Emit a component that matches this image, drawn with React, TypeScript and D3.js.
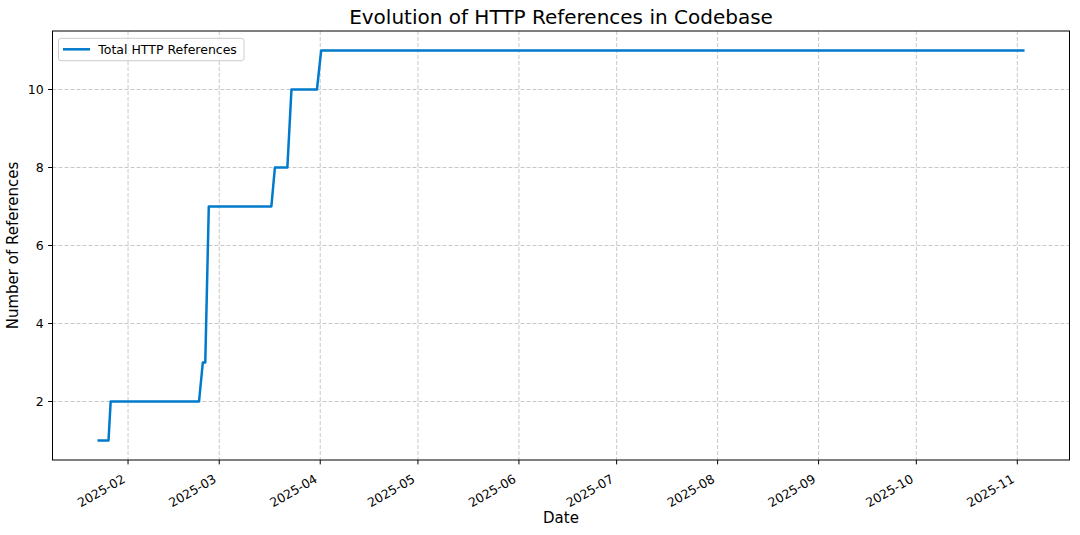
import React from "react";
import * as d3 from "d3";

const dates: string[] = [
  "2025-01-23T00:00",
  "2025-01-26T00:00",
  "2025-01-26T16:00",
  "2025-02-22T19:00",
  "2025-02-23T23:00",
  "2025-02-24T17:00",
  "2025-02-25T19:00",
  "2025-03-17T00:00",
  "2025-03-18T02:00",
  "2025-03-21T22:00",
  "2025-03-23T04:00",
  "2025-03-31T00:00",
  "2025-04-01T07:00",
  "2025-11-02T20:00",
];
const values: number[] = [1, 1, 2, 2, 3, 3, 7, 7, 8, 8, 10, 10, 11, 11];
const yTicks: number[] = [2, 4, 6, 8, 10];
const xTickMonths: string[] = [
  "2025-02-01", "2025-03-01", "2025-04-01", "2025-05-01", "2025-06-01",
  "2025-07-01", "2025-08-01", "2025-09-01", "2025-10-01", "2025-11-01",
];
const seriesName = "Total HTTP References";

const W = 1080, H = 535;
const L = 52.5, R = 1069.5, T = 31, B = 460;
const FONT = "DejaVu Sans, sans-serif";
const LINE = "#007acc";

export default function App() {
  const parsed = dates.map((d) => new Date(d));
  const [mn, mx] = d3.extent(parsed) as [Date, Date];
  const span = mx.getTime() - mn.getTime();
  const x = d3.scaleTime()
    .domain([new Date(mn.getTime() - span * 0.05), new Date(mx.getTime() + span * 0.05)])
    .range([L, R]);
  const vmin = d3.min(values)!, vmax = d3.max(values)!;
  const vs = vmax - vmin;
  const y = d3.scaleLinear().domain([vmin - vs * 0.05, vmax + vs * 0.05]).range([B, T]);
  const line = d3.line<number>()
    .x((_, i) => x(parsed[i]))
    .y((v) => y(v));
  const fmt = d3.timeFormat("%Y-%m");
  const xt = xTickMonths.map((d) => new Date(d + "T00:00"));

  return (
    <div style={{ position: "absolute", left: 0, top: 0 }}>
      <svg width={W} height={H} style={{ display: "block", background: "#fff" }} fontFamily={FONT}>
        <rect x={0} y={0} width={W} height={H} fill="#fff" />
        {/* grid */}
        {xt.map((d, i) => (
          <line key={"gx" + i} x1={x(d)} x2={x(d)} y1={T} y2={B}
            stroke="#b0b0b0" strokeOpacity={0.7} strokeWidth={1} strokeDasharray="4,2" />
        ))}
        {yTicks.map((v, i) => (
          <line key={"gy" + i} x1={L} x2={R} y1={y(v)} y2={y(v)}
            stroke="#b0b0b0" strokeOpacity={0.7} strokeWidth={1} strokeDasharray="4,2" />
        ))}
        {/* data line */}
        <path d={line(values) || ""} fill="none" stroke={LINE} strokeWidth={2.5}
          strokeLinejoin="round" strokeLinecap="square" />
        {/* axes frame */}
        <rect x={L} y={T} width={R - L} height={B - T} fill="none" stroke="#000" strokeWidth={1} />
        {/* x ticks */}
        {xt.map((d, i) => (
          <g key={"xt" + i} transform={`translate(${x(d)},${B})`}>
            <line y1={0} y2={4.4} stroke="#000" strokeWidth={1} />
            <text transform="translate(-2,21.5) rotate(-30)" textAnchor="end"
              fontSize={12.5} fill="#000">{fmt(d)}</text>
          </g>
        ))}
        {/* y ticks */}
        {yTicks.map((v, i) => (
          <g key={"yt" + i} transform={`translate(${L},${y(v)})`}>
            <line x1={-4.4} x2={0} stroke="#000" strokeWidth={1} />
            <text x={-8.8} dy="0.35em" textAnchor="end" fontSize={12.5} fill="#000">{v}</text>
          </g>
        ))}
        {/* labels */}
        <text x={(L + R) / 2} y={523.3} textAnchor="middle" fontSize={15} fill="#000">Date</text>
        <text transform={`translate(17.7,${(T + B) / 2}) rotate(-90)`} textAnchor="middle"
          fontSize={15} fill="#000">Number of References</text>
        <text x={(L + R) / 2} y={24} textAnchor="middle" fontSize={20} fill="#000">
          Evolution of HTTP References in Codebase
        </text>
        {/* legend */}
        <g>
          <rect x={58.5} y={38.3} width={185.5} height={22.4} rx={2.5} fill="#fff" fillOpacity={0.8}
            stroke="#cccccc" strokeWidth={1} />
          <line x1={63} x2={90} y1={49.3} y2={49.3} stroke={LINE} strokeWidth={2.5} />
          <text x={98.3} y={49.3} dy="0.35em" fontSize={12.5} fill="#000">{seriesName}</text>
        </g>
      </svg>
    </div>
  );
}
